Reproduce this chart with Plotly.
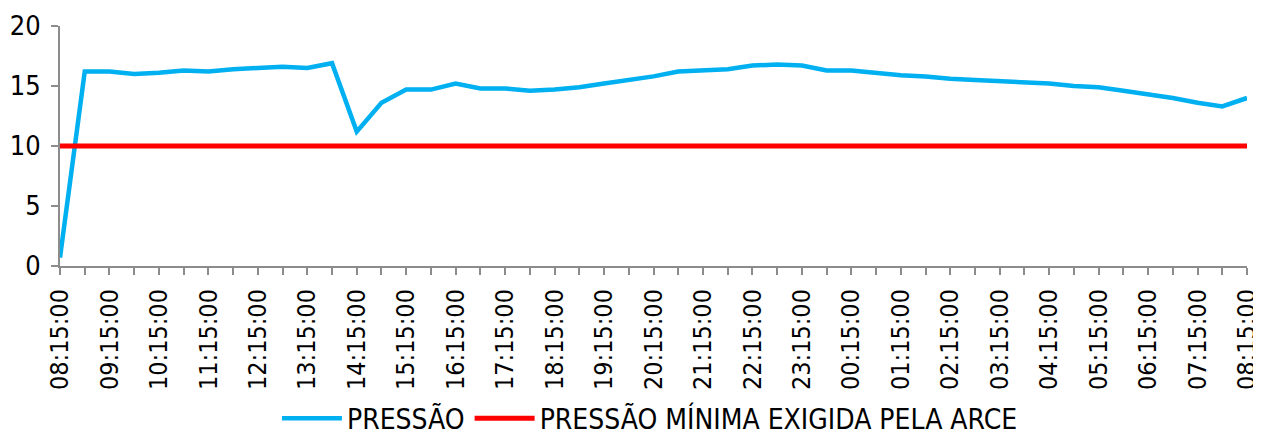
import plotly.graph_objects as go

# Half-hour timestamps from 08:15 to 08:15 next day
time_labels = ["08:15:00", "08:45:00", "09:15:00", "09:45:00", "10:15:00", "10:45:00",
               "11:15:00", "11:45:00", "12:15:00", "12:45:00", "13:15:00", "13:45:00",
               "14:15:00", "14:45:00", "15:15:00", "15:45:00", "16:15:00", "16:45:00",
               "17:15:00", "17:45:00", "18:15:00", "18:45:00", "19:15:00", "19:45:00",
               "20:15:00", "20:45:00", "21:15:00", "21:45:00", "22:15:00", "22:45:00",
               "23:15:00", "23:45:00", "00:15:00", "00:45:00", "01:15:00", "01:45:00",
               "02:15:00", "02:45:00", "03:15:00", "03:45:00", "04:15:00", "04:45:00",
               "05:15:00", "05:45:00", "06:15:00", "06:45:00", "07:15:00", "07:45:00",
               "08:15:00"]

pressao = [0.7, 16.2, 16.2, 16.0, 16.1, 16.3, 16.2, 16.4, 16.5, 16.6, 16.5, 16.9,
           11.2, 13.6, 14.7, 14.7, 15.2, 14.8, 14.8, 14.6, 14.7, 14.9, 15.2, 15.5,
           15.8, 16.2, 16.3, 16.4, 16.7, 16.8, 16.7, 16.3, 16.3, 16.1, 15.9, 15.8,
           15.6, 15.5, 15.4, 15.3, 15.2, 15.0, 14.9, 14.6, 14.3, 14.0, 13.6, 13.3,
           14.0]

pressao_minima = [10] * len(time_labels)

y_ticks = [0, 5, 10, 15, 20]

x_pos = list(range(len(time_labels)))
tick_text = [lab if i % 2 == 0 else "" for i, lab in enumerate(time_labels)]

FONT = "DejaVu Sans Condensed, DejaVu Sans"

fig = go.Figure()
fig.add_trace(go.Scatter(x=x_pos, y=pressao, mode="lines", name="PRESSÃO",
                         line=dict(color="#00B0F0", width=4.5)))
fig.add_trace(go.Scatter(x=x_pos, y=pressao_minima, mode="lines",
                         name="PRESSÃO MÍNIMA EXIGIDA PELA ARCE",
                         line=dict(color="#FF0000", width=5)))

# page body adds an 8px offset; compensate in size and margins
fig.update_layout(
    width=1253, height=431,
    margin=dict(l=52, r=14, t=18, b=173, autoexpand=False),
    paper_bgcolor="white", plot_bgcolor="white",
    font=dict(family=FONT, size=26, color="black"),
    showlegend=True,
    legend=dict(orientation="h", x=0.497, xanchor="center", y=-0.74, yanchor="bottom",
                font=dict(family=FONT, size=28), itemwidth=60,
                tracegroupgap=0),
)
fig.update_xaxes(range=[0, len(time_labels) - 1], tickmode="array", tickvals=x_pos,
                 ticktext=tick_text, tickangle=-90, showgrid=False, zeroline=False,
                 showline=True, linecolor="#8c8c8c", linewidth=2,
                 ticks="outside", ticklen=7, tickwidth=2, tickcolor="#8c8c8c",
                 tickfont=dict(family=FONT, size=25), automargin=False,
                 ticklabelstandoff=4, ticklabeloverflow="allow")
fig.update_yaxes(range=[0, 20], tickvals=y_ticks, showgrid=False, zeroline=False,
                 showline=True, linecolor="#8c8c8c", linewidth=2,
                 ticks="outside", ticklen=7, tickwidth=2, tickcolor="#8c8c8c",
                 tickfont=dict(family=FONT, size=27), automargin=False,
                 ticklabelstandoff=5)

fig.write_html("out.html")
